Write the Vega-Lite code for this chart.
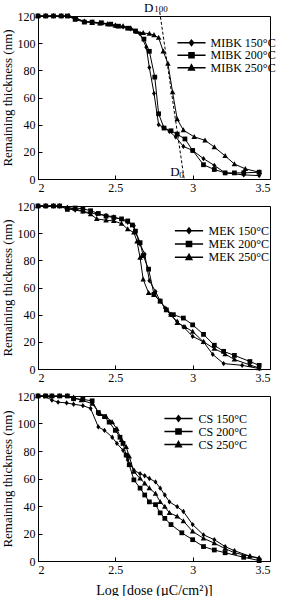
{
"$schema":"https://vega.github.io/schema/vega-lite/v6.json",
"padding":{"left":0,"top":1,"right":0,"bottom":0},
"bounds":"flush",
"spacing":27,
"resolve":{"scale":{"shape":"independent"},"legend":{"shape":"independent"}},
"config":{
 "font":"Liberation Serif, serif",
 "text":{"font":"Liberation Serif, serif"},
 "view":{"stroke":"black","strokeWidth":1},
 "axis":{"domainColor":"black","tickColor":"black","labelColor":"black","titleColor":"black","grid":false,"labelFont":"Liberation Serif, serif","titleFont":"Liberation Serif, serif","labelFontSize":12,"titleFontSize":13,"titleFontWeight":"normal","tickSize":-4,"labelPadding":7,"domainWidth":1,"tickWidth":1},
 "legend":{"labelFont":"Liberation Serif, serif"}
},
"datasets":{
"p1":[
{"s":"MIBK 150°C","x":2.00,"y":120},{"s":"MIBK 150°C","x":2.05,"y":120},{"s":"MIBK 150°C","x":2.10,"y":120},{"s":"MIBK 150°C","x":2.15,"y":120},{"s":"MIBK 150°C","x":2.20,"y":120},{"s":"MIBK 150°C","x":2.25,"y":118},{"s":"MIBK 150°C","x":2.30,"y":116},{"s":"MIBK 150°C","x":2.35,"y":115.5},{"s":"MIBK 150°C","x":2.40,"y":115},{"s":"MIBK 150°C","x":2.45,"y":114},{"s":"MIBK 150°C","x":2.50,"y":113},{"s":"MIBK 150°C","x":2.55,"y":112},{"s":"MIBK 150°C","x":2.60,"y":110.5},{"s":"MIBK 150°C","x":2.66,"y":107},{"s":"MIBK 150°C","x":2.70,"y":97},{"s":"MIBK 150°C","x":2.72,"y":82},{"s":"MIBK 150°C","x":2.75,"y":63},{"s":"MIBK 150°C","x":2.78,"y":40},{"s":"MIBK 150°C","x":2.81,"y":38},{"s":"MIBK 150°C","x":2.85,"y":35},{"s":"MIBK 150°C","x":2.89,"y":31},{"s":"MIBK 150°C","x":2.94,"y":24},{"s":"MIBK 150°C","x":3.00,"y":21},{"s":"MIBK 150°C","x":3.07,"y":15},{"s":"MIBK 150°C","x":3.14,"y":10},{"s":"MIBK 150°C","x":3.21,"y":4.5},{"s":"MIBK 150°C","x":3.33,"y":3},{"s":"MIBK 150°C","x":3.43,"y":2.5},
{"s":"MIBK 200°C","x":2.00,"y":120},{"s":"MIBK 200°C","x":2.05,"y":120},{"s":"MIBK 200°C","x":2.10,"y":120},{"s":"MIBK 200°C","x":2.15,"y":120},{"s":"MIBK 200°C","x":2.19,"y":120},{"s":"MIBK 200°C","x":2.24,"y":117.5},{"s":"MIBK 200°C","x":2.30,"y":115.5},{"s":"MIBK 200°C","x":2.35,"y":115.5},{"s":"MIBK 200°C","x":2.41,"y":115},{"s":"MIBK 200°C","x":2.47,"y":114},{"s":"MIBK 200°C","x":2.52,"y":112.5},{"s":"MIBK 200°C","x":2.58,"y":111},{"s":"MIBK 200°C","x":2.63,"y":109},{"s":"MIBK 200°C","x":2.685,"y":103},{"s":"MIBK 200°C","x":2.72,"y":94},{"s":"MIBK 200°C","x":2.755,"y":75},{"s":"MIBK 200°C","x":2.78,"y":48},{"s":"MIBK 200°C","x":2.815,"y":37.5},{"s":"MIBK 200°C","x":2.86,"y":35.5},{"s":"MIBK 200°C","x":2.90,"y":33},{"s":"MIBK 200°C","x":2.95,"y":29.5},{"s":"MIBK 200°C","x":3.00,"y":21},{"s":"MIBK 200°C","x":3.07,"y":10.5},{"s":"MIBK 200°C","x":3.14,"y":7},{"s":"MIBK 200°C","x":3.21,"y":4.5},{"s":"MIBK 200°C","x":3.27,"y":4.5},{"s":"MIBK 200°C","x":3.33,"y":4.5},{"s":"MIBK 200°C","x":3.43,"y":5},
{"s":"MIBK 250°C","x":2.00,"y":120},{"s":"MIBK 250°C","x":2.05,"y":120},{"s":"MIBK 250°C","x":2.10,"y":120},{"s":"MIBK 250°C","x":2.15,"y":120},{"s":"MIBK 250°C","x":2.20,"y":120},{"s":"MIBK 250°C","x":2.25,"y":118},{"s":"MIBK 250°C","x":2.30,"y":116},{"s":"MIBK 250°C","x":2.35,"y":115},{"s":"MIBK 250°C","x":2.40,"y":114.5},{"s":"MIBK 250°C","x":2.45,"y":114},{"s":"MIBK 250°C","x":2.50,"y":113},{"s":"MIBK 250°C","x":2.55,"y":112.5},{"s":"MIBK 250°C","x":2.60,"y":111},{"s":"MIBK 250°C","x":2.64,"y":108.5},{"s":"MIBK 250°C","x":2.68,"y":107.5},{"s":"MIBK 250°C","x":2.72,"y":107},{"s":"MIBK 250°C","x":2.75,"y":106},{"s":"MIBK 250°C","x":2.78,"y":104},{"s":"MIBK 250°C","x":2.81,"y":94},{"s":"MIBK 250°C","x":2.84,"y":85},{"s":"MIBK 250°C","x":2.87,"y":64},{"s":"MIBK 250°C","x":2.90,"y":44},{"s":"MIBK 250°C","x":2.94,"y":36},{"s":"MIBK 250°C","x":3.01,"y":31},{"s":"MIBK 250°C","x":3.08,"y":28.5},{"s":"MIBK 250°C","x":3.14,"y":23.5},{"s":"MIBK 250°C","x":3.21,"y":17},{"s":"MIBK 250°C","x":3.27,"y":11},{"s":"MIBK 250°C","x":3.34,"y":7.5},{"s":"MIBK 250°C","x":3.43,"y":5}
],
"p2":[
{"s":"MEK 150°C","x":2.00,"y":120},{"s":"MEK 150°C","x":2.05,"y":120},{"s":"MEK 150°C","x":2.10,"y":120},{"s":"MEK 150°C","x":2.14,"y":120},{"s":"MEK 150°C","x":2.19,"y":118},{"s":"MEK 150°C","x":2.24,"y":117},{"s":"MEK 150°C","x":2.29,"y":116},{"s":"MEK 150°C","x":2.34,"y":115},{"s":"MEK 150°C","x":2.38,"y":114},{"s":"MEK 150°C","x":2.44,"y":113},{"s":"MEK 150°C","x":2.49,"y":112},{"s":"MEK 150°C","x":2.54,"y":110},{"s":"MEK 150°C","x":2.58,"y":108},{"s":"MEK 150°C","x":2.62,"y":105.5},{"s":"MEK 150°C","x":2.63,"y":101},{"s":"MEK 150°C","x":2.66,"y":92},{"s":"MEK 150°C","x":2.69,"y":84.5},{"s":"MEK 150°C","x":2.72,"y":65},{"s":"MEK 150°C","x":2.76,"y":57},{"s":"MEK 150°C","x":2.79,"y":50},{"s":"MEK 150°C","x":2.82,"y":45},{"s":"MEK 150°C","x":2.855,"y":40},{"s":"MEK 150°C","x":2.90,"y":35},{"s":"MEK 150°C","x":2.94,"y":31},{"s":"MEK 150°C","x":3.00,"y":24},{"s":"MEK 150°C","x":3.07,"y":20},{"s":"MEK 150°C","x":3.13,"y":10.7},{"s":"MEK 150°C","x":3.20,"y":4},{"s":"MEK 150°C","x":3.32,"y":2.7},{"s":"MEK 150°C","x":3.43,"y":0.3},
{"s":"MEK 200°C","x":2.00,"y":120},{"s":"MEK 200°C","x":2.05,"y":120},{"s":"MEK 200°C","x":2.10,"y":120},{"s":"MEK 200°C","x":2.14,"y":120},{"s":"MEK 200°C","x":2.19,"y":117.5},{"s":"MEK 200°C","x":2.24,"y":118.5},{"s":"MEK 200°C","x":2.29,"y":118},{"s":"MEK 200°C","x":2.34,"y":116.5},{"s":"MEK 200°C","x":2.39,"y":114.5},{"s":"MEK 200°C","x":2.44,"y":112.5},{"s":"MEK 200°C","x":2.49,"y":111.5},{"s":"MEK 200°C","x":2.54,"y":110.5},{"s":"MEK 200°C","x":2.58,"y":109},{"s":"MEK 200°C","x":2.61,"y":106},{"s":"MEK 200°C","x":2.63,"y":101.5},{"s":"MEK 200°C","x":2.66,"y":93},{"s":"MEK 200°C","x":2.68,"y":83.5},{"s":"MEK 200°C","x":2.715,"y":73.5},{"s":"MEK 200°C","x":2.75,"y":55},{"s":"MEK 200°C","x":2.79,"y":50},{"s":"MEK 200°C","x":2.83,"y":43.5},{"s":"MEK 200°C","x":2.875,"y":40},{"s":"MEK 200°C","x":2.94,"y":37.5},{"s":"MEK 200°C","x":3.00,"y":32.5},{"s":"MEK 200°C","x":3.07,"y":25.5},{"s":"MEK 200°C","x":3.14,"y":17.5},{"s":"MEK 200°C","x":3.20,"y":13},{"s":"MEK 200°C","x":3.27,"y":10},{"s":"MEK 200°C","x":3.37,"y":5.5},{"s":"MEK 200°C","x":3.43,"y":2.7},
{"s":"MEK 250°C","x":2.00,"y":120},{"s":"MEK 250°C","x":2.05,"y":120},{"s":"MEK 250°C","x":2.10,"y":120},{"s":"MEK 250°C","x":2.14,"y":120},{"s":"MEK 250°C","x":2.19,"y":119},{"s":"MEK 250°C","x":2.24,"y":118},{"s":"MEK 250°C","x":2.29,"y":116},{"s":"MEK 250°C","x":2.34,"y":114},{"s":"MEK 250°C","x":2.38,"y":110.5},{"s":"MEK 250°C","x":2.44,"y":109.5},{"s":"MEK 250°C","x":2.49,"y":109},{"s":"MEK 250°C","x":2.54,"y":107},{"s":"MEK 250°C","x":2.58,"y":103},{"s":"MEK 250°C","x":2.62,"y":100.5},{"s":"MEK 250°C","x":2.64,"y":94},{"s":"MEK 250°C","x":2.66,"y":82},{"s":"MEK 250°C","x":2.68,"y":66},{"s":"MEK 250°C","x":2.715,"y":56},{"s":"MEK 250°C","x":2.75,"y":54.5},{"s":"MEK 250°C","x":2.79,"y":50},{"s":"MEK 250°C","x":2.83,"y":44},{"s":"MEK 250°C","x":2.86,"y":40},{"s":"MEK 250°C","x":2.90,"y":34},{"s":"MEK 250°C","x":2.95,"y":31},{"s":"MEK 250°C","x":3.00,"y":27.5},{"s":"MEK 250°C","x":3.07,"y":20},{"s":"MEK 250°C","x":3.14,"y":15},{"s":"MEK 250°C","x":3.21,"y":11},{"s":"MEK 250°C","x":3.27,"y":7},{"s":"MEK 250°C","x":3.37,"y":3},{"s":"MEK 250°C","x":3.43,"y":0.7}
],
"p3":[
{"s":"CS 150°C","x":2.00,"y":120},{"s":"CS 150°C","x":2.04,"y":120},{"s":"CS 150°C","x":2.09,"y":117},{"s":"CS 150°C","x":2.13,"y":115.5},{"s":"CS 150°C","x":2.185,"y":115},{"s":"CS 150°C","x":2.23,"y":114},{"s":"CS 150°C","x":2.29,"y":113},{"s":"CS 150°C","x":2.34,"y":111},{"s":"CS 150°C","x":2.39,"y":97.5},{"s":"CS 150°C","x":2.43,"y":95},{"s":"CS 150°C","x":2.48,"y":90},{"s":"CS 150°C","x":2.51,"y":85.5},{"s":"CS 150°C","x":2.55,"y":80.5},{"s":"CS 150°C","x":2.58,"y":73.5},{"s":"CS 150°C","x":2.62,"y":66},{"s":"CS 150°C","x":2.66,"y":63.5},{"s":"CS 150°C","x":2.69,"y":62},{"s":"CS 150°C","x":2.72,"y":60},{"s":"CS 150°C","x":2.76,"y":57.5},{"s":"CS 150°C","x":2.79,"y":53},{"s":"CS 150°C","x":2.82,"y":48},{"s":"CS 150°C","x":2.85,"y":43},{"s":"CS 150°C","x":2.90,"y":39.5},{"s":"CS 150°C","x":2.94,"y":36},{"s":"CS 150°C","x":3.00,"y":26.5},{"s":"CS 150°C","x":3.07,"y":19},{"s":"CS 150°C","x":3.14,"y":15.5},{"s":"CS 150°C","x":3.21,"y":10.5},{"s":"CS 150°C","x":3.27,"y":7.5},{"s":"CS 150°C","x":3.37,"y":3.5},{"s":"CS 150°C","x":3.43,"y":1.7},
{"s":"CS 200°C","x":2.00,"y":120},{"s":"CS 200°C","x":2.05,"y":120},{"s":"CS 200°C","x":2.09,"y":120},{"s":"CS 200°C","x":2.14,"y":120},{"s":"CS 200°C","x":2.19,"y":120},{"s":"CS 200°C","x":2.23,"y":118},{"s":"CS 200°C","x":2.29,"y":117.5},{"s":"CS 200°C","x":2.35,"y":116.5},{"s":"CS 200°C","x":2.39,"y":108},{"s":"CS 200°C","x":2.43,"y":105},{"s":"CS 200°C","x":2.46,"y":101},{"s":"CS 200°C","x":2.50,"y":95},{"s":"CS 200°C","x":2.53,"y":90},{"s":"CS 200°C","x":2.55,"y":85.5},{"s":"CS 200°C","x":2.57,"y":77},{"s":"CS 200°C","x":2.59,"y":70},{"s":"CS 200°C","x":2.62,"y":59},{"s":"CS 200°C","x":2.66,"y":53},{"s":"CS 200°C","x":2.69,"y":48},{"s":"CS 200°C","x":2.72,"y":43},{"s":"CS 200°C","x":2.76,"y":41},{"s":"CS 200°C","x":2.79,"y":35},{"s":"CS 200°C","x":2.82,"y":31},{"s":"CS 200°C","x":2.86,"y":26.5},{"s":"CS 200°C","x":2.93,"y":20.5},{"s":"CS 200°C","x":3.00,"y":15.5},{"s":"CS 200°C","x":3.07,"y":10.5},{"s":"CS 200°C","x":3.14,"y":8},{"s":"CS 200°C","x":3.21,"y":6},{"s":"CS 200°C","x":3.33,"y":2.7},{"s":"CS 200°C","x":3.43,"y":0.3},
{"s":"CS 250°C","x":2.00,"y":120},{"s":"CS 250°C","x":2.05,"y":120},{"s":"CS 250°C","x":2.09,"y":120},{"s":"CS 250°C","x":2.14,"y":120},{"s":"CS 250°C","x":2.19,"y":120},{"s":"CS 250°C","x":2.23,"y":119},{"s":"CS 250°C","x":2.28,"y":117},{"s":"CS 250°C","x":2.35,"y":114.5},{"s":"CS 250°C","x":2.40,"y":107},{"s":"CS 250°C","x":2.44,"y":105},{"s":"CS 250°C","x":2.48,"y":101},{"s":"CS 250°C","x":2.51,"y":96},{"s":"CS 250°C","x":2.54,"y":88},{"s":"CS 250°C","x":2.57,"y":83},{"s":"CS 250°C","x":2.59,"y":76},{"s":"CS 250°C","x":2.62,"y":65},{"s":"CS 250°C","x":2.66,"y":60},{"s":"CS 250°C","x":2.69,"y":56.5},{"s":"CS 250°C","x":2.72,"y":53},{"s":"CS 250°C","x":2.76,"y":49},{"s":"CS 250°C","x":2.79,"y":43},{"s":"CS 250°C","x":2.82,"y":39.5},{"s":"CS 250°C","x":2.85,"y":35},{"s":"CS 250°C","x":2.90,"y":32.5},{"s":"CS 250°C","x":2.94,"y":29},{"s":"CS 250°C","x":3.00,"y":21.5},{"s":"CS 250°C","x":3.07,"y":16.5},{"s":"CS 250°C","x":3.14,"y":13},{"s":"CS 250°C","x":3.21,"y":9},{"s":"CS 250°C","x":3.27,"y":6},{"s":"CS 250°C","x":3.37,"y":3.5},{"s":"CS 250°C","x":3.43,"y":2.2}
]
},
"vconcat":[
{
 "width":232,"height":163,
 "data":{"name":"p1"},
 "encoding":{
  "x":{"field":"x","type":"quantitative","scale":{"domain":[2,3.5],"nice":false,"zero":false},"axis":{"values":[2,2.5,3,3.5],"format":"~g","title":null}},
  "y":{"field":"y","type":"quantitative","scale":{"domain":[0,120],"nice":false},"axis":{"values":[0,20,40,60,80,100,120],"title":"Remaining thickness (nm)","titlePadding":3}}
 },
 "layer":[
  {"mark":{"type":"line","color":"black","strokeWidth":1},"encoding":{"detail":{"field":"s"}}},
  {"mark":{"type":"point","filled":true,"color":"black","opacity":1,"size":28},"encoding":{"shape":{"field":"s","type":"nominal","scale":{"domain":["MIBK 150°C","MIBK 200°C","MIBK 250°C"],"range":["M0,-1L0.75,0L0,1L-0.75,0Z","M-0.9,-0.9L0.9,-0.9L0.9,0.9L-0.9,0.9Z","M0,-1.1L1.05,0.8L-1.05,0.8Z"]},"legend":null}}},
  {"mark":{"type":"point","filled":true,"color":"black","stroke":"black","strokeWidth":1,"opacity":0},"encoding":{"shape":{"field":"s","type":"nominal","scale":{"domain":["MIBK 150°C","MIBK 200°C","MIBK 250°C"],"range":["M-4.7,0L4.7,0M0,-0.9L0.7,0L0,0.9L-0.7,0Z","M-4.7,0L4.7,0M-0.85,-0.85L0.85,-0.85L0.85,0.85L-0.85,0.85Z","M-4.7,0L4.7,0M0,-1L0.95,0.75L-0.95,0.75Z"]},"legend":{"orient":"none","legendX":147.5,"legendY":20.8,"title":null,"labelFont":"Liberation Serif, serif","labelFontSize":12,"labelColor":"black","symbolSize":36,"labelOffset":13,"rowPadding":0.5,"padding":0,"symbolOpacity":1,"encode":{"symbols":{"update":{"stroke":{"value":"black"},"strokeWidth":{"value":1},"fill":{"value":"black"},"opacity":{"value":1}}}}}}}},
  {"data":{"values":[{"x":2.787,"y":123,"x2":2.945,"y2":0}]},"mark":{"type":"rule","color":"black","strokeWidth":1,"strokeDash":[3,2]},"encoding":{"x2":{"field":"x2"},"y2":{"field":"y2"}}},
  {"data":{"values":[{"x":2.686,"y":123.3,"t":"D"},{"x":2.855,"y":2.2,"t":"D"}]},"mark":{"type":"text","fontSize":13,"align":"left","baseline":"alphabetic","color":"black","font":"Liberation Serif, serif"},"encoding":{"text":{"field":"t"}}},
  {"data":{"values":[{"x":2.751,"y":122.6,"t":"100"},{"x":2.913,"y":0.8,"t":"0"}]},"mark":{"type":"text","fontSize":9,"align":"left","baseline":"alphabetic","color":"black","font":"Liberation Serif, serif"},"encoding":{"text":{"field":"t"}}}
 ],
 "resolve":{"scale":{"shape":"independent"},"legend":{"shape":"independent"}}
},
{
 "width":232,"height":163,
 "data":{"name":"p2"},
 "encoding":{
  "x":{"field":"x","type":"quantitative","scale":{"domain":[2,3.5],"nice":false,"zero":false},"axis":{"values":[2,2.5,3,3.5],"format":"~g","title":null}},
  "y":{"field":"y","type":"quantitative","scale":{"domain":[0,120],"nice":false},"axis":{"values":[0,20,40,60,80,100,120],"title":"Remaining thickness (nm)","titlePadding":3}}
 },
 "layer":[
  {"mark":{"type":"line","color":"black","strokeWidth":1},"encoding":{"detail":{"field":"s"}}},
  {"mark":{"type":"point","filled":true,"color":"black","opacity":1,"size":28},"encoding":{"shape":{"field":"s","type":"nominal","scale":{"domain":["MEK 150°C","MEK 200°C","MEK 250°C"],"range":["M0,-1L0.75,0L0,1L-0.75,0Z","M-0.9,-0.9L0.9,-0.9L0.9,0.9L-0.9,0.9Z","M0,-1.1L1.05,0.8L-1.05,0.8Z"]},"legend":null}}},
  {"mark":{"type":"point","filled":true,"color":"black","stroke":"black","strokeWidth":1,"opacity":0},"encoding":{"shape":{"field":"s","type":"nominal","scale":{"domain":["MEK 150°C","MEK 200°C","MEK 250°C"],"range":["M-4.7,0L4.7,0M0,-0.9L0.7,0L0,0.9L-0.7,0Z","M-4.7,0L4.7,0M-0.85,-0.85L0.85,-0.85L0.85,0.85L-0.85,0.85Z","M-4.7,0L4.7,0M0,-1L0.95,0.75L-0.95,0.75Z"]},"legend":{"orient":"none","legendX":145,"legendY":18.7,"title":null,"labelFont":"Liberation Serif, serif","labelFontSize":12,"labelColor":"black","symbolSize":36,"labelOffset":13.5,"rowPadding":1.3,"padding":0,"symbolOpacity":1,"encode":{"symbols":{"update":{"stroke":{"value":"black"},"strokeWidth":{"value":1},"fill":{"value":"black"},"opacity":{"value":1}}}}}}}}
 ],
 "resolve":{"scale":{"shape":"independent"},"legend":{"shape":"independent"}}
},
{
 "width":232,"height":165,
 "data":{"name":"p3"},
 "encoding":{
  "x":{"field":"x","type":"quantitative","scale":{"domain":[2,3.5],"nice":false,"zero":false},"axis":{"values":[2,2.5,3,3.5],"format":"~g","title":"Log [dose (µC/cm²)]","titleFontSize":14,"titlePadding":8}},
  "y":{"field":"y","type":"quantitative","scale":{"domain":[0,120],"nice":false},"axis":{"values":[0,20,40,60,80,100,120],"title":"Remaining thickness (nm)","titlePadding":3}}
 },
 "layer":[
  {"mark":{"type":"line","color":"black","strokeWidth":1},"encoding":{"detail":{"field":"s"}}},
  {"mark":{"type":"point","filled":true,"color":"black","opacity":1,"size":28},"encoding":{"shape":{"field":"s","type":"nominal","scale":{"domain":["CS 150°C","CS 200°C","CS 250°C"],"range":["M0,-1L0.75,0L0,1L-0.75,0Z","M-0.9,-0.9L0.9,-0.9L0.9,0.9L-0.9,0.9Z","M0,-1.1L1.05,0.8L-1.05,0.8Z"]},"legend":null}}},
  {"mark":{"type":"point","filled":true,"color":"black","stroke":"black","strokeWidth":1,"opacity":0},"encoding":{"shape":{"field":"s","type":"nominal","scale":{"domain":["CS 150°C","CS 200°C","CS 250°C"],"range":["M-4.7,0L4.7,0M0,-0.9L0.7,0L0,0.9L-0.7,0Z","M-4.7,0L4.7,0M-0.85,-0.85L0.85,-0.85L0.85,0.85L-0.85,0.85Z","M-4.7,0L4.7,0M0,-1L0.95,0.75L-0.95,0.75Z"]},"legend":{"orient":"none","legendX":134.5,"legendY":16.5,"title":null,"labelFont":"Liberation Serif, serif","labelFontSize":12,"labelColor":"black","symbolSize":36,"labelOffset":14,"rowPadding":1,"padding":0,"symbolOpacity":1,"encode":{"symbols":{"update":{"stroke":{"value":"black"},"strokeWidth":{"value":1},"fill":{"value":"black"},"opacity":{"value":1}}}}}}}}
 ],
 "resolve":{"scale":{"shape":"independent"},"legend":{"shape":"independent"}}
}
]
}
